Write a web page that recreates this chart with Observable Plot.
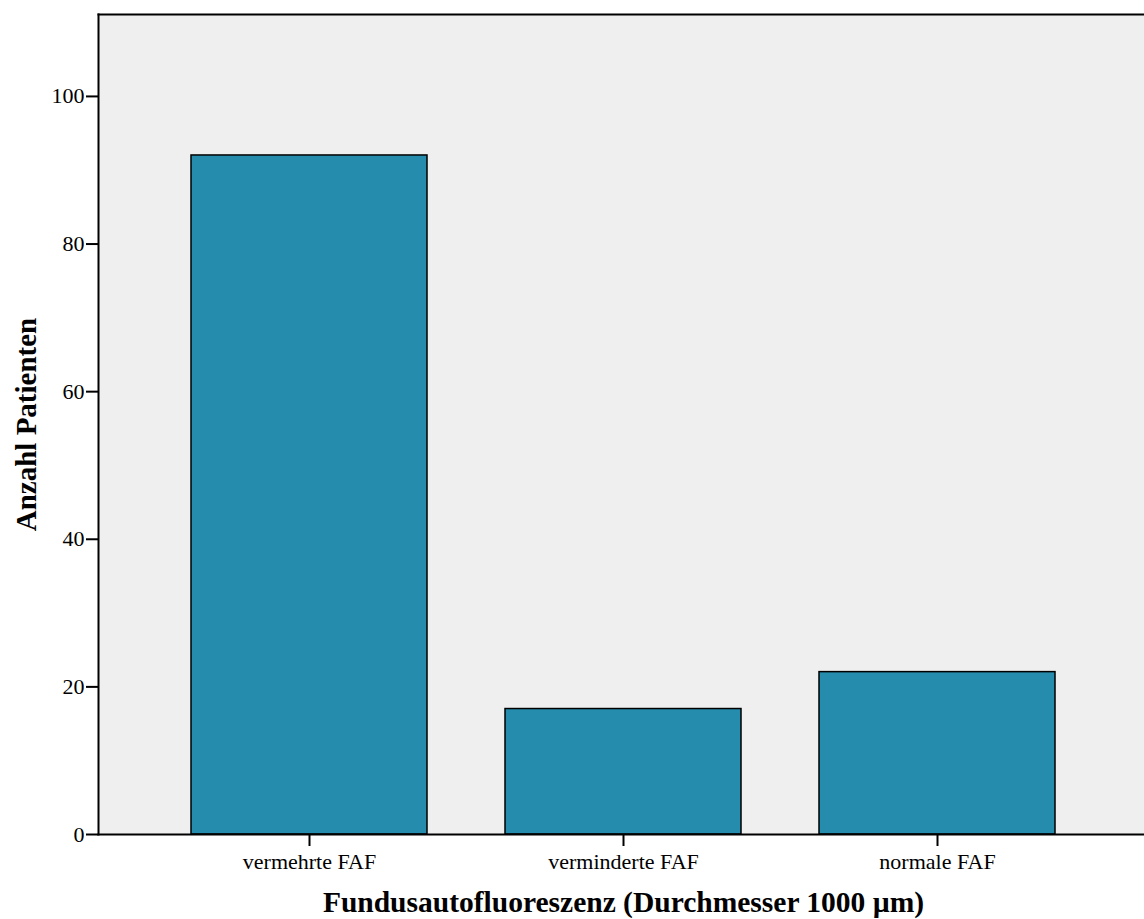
<!DOCTYPE html>
<html><head><meta charset="utf-8">
<script src="https://cdn.jsdelivr.net/npm/d3@7"></script>
<script src="https://cdn.jsdelivr.net/npm/@observablehq/plot@0.6"></script>
<style>body{margin:0;background:#fff}</style>
</head><body><div id="chart"></div>
<script>
const categories = ["vermehrte FAF", "verminderte FAF", "normale FAF"];
const counts = [92, 17, 22];
const yTicks = [0, 20, 40, 60, 80, 100];
const xTitle = "Fundusautofluoreszenz (Durchmesser 1000 µm)";
const yTitle = "Anzahl Patienten";
const data = categories.map((c, i) => ({category: c, count: counts[i]}));
const chart = Plot.plot({
  width: 1144, height: 919,
  marginLeft: 98, marginRight: 0, marginTop: 14, marginBottom: 85,
  style: {fontFamily: "'Liberation Serif', serif", fontSize: "22px", background: "#fff", color: "#000"},
  x: {domain: categories, range: [98, 1148], paddingInner: 0.25, paddingOuter: 0.292},
  y: {domain: [0, 111.1], range: [834, 14]},
  marks: [
    Plot.frame({fill: "#EFEFEF", stroke: "none"}),
    Plot.barY(data, {x: "category", y: "count", fill: "#268CAD", stroke: "#000", strokeWidth: 1.5}),
    Plot.axisY({ticks: yTicks, tickSize: 12, tickPadding: 2, label: null, strokeWidth: 2}),
    Plot.axisX({tickSize: 12, tickPadding: 7, label: null, strokeWidth: 2}),
    Plot.frame({anchor: "top", strokeWidth: 2}),
    Plot.frame({anchor: "left", strokeWidth: 2}),
    Plot.frame({anchor: "bottom", strokeWidth: 2}),
    Plot.text([yTitle], {frameAnchor: "left", textAnchor: "middle", dx: -72, rotate: -90, fontSize: 29, fontWeight: "bold"}),
    Plot.text([xTitle], {frameAnchor: "bottom", dy: 77, dx: 2, fontSize: 29.5, fontWeight: "bold"})
  ]
});
document.getElementById("chart").appendChild(chart);
</script>
</body></html>
